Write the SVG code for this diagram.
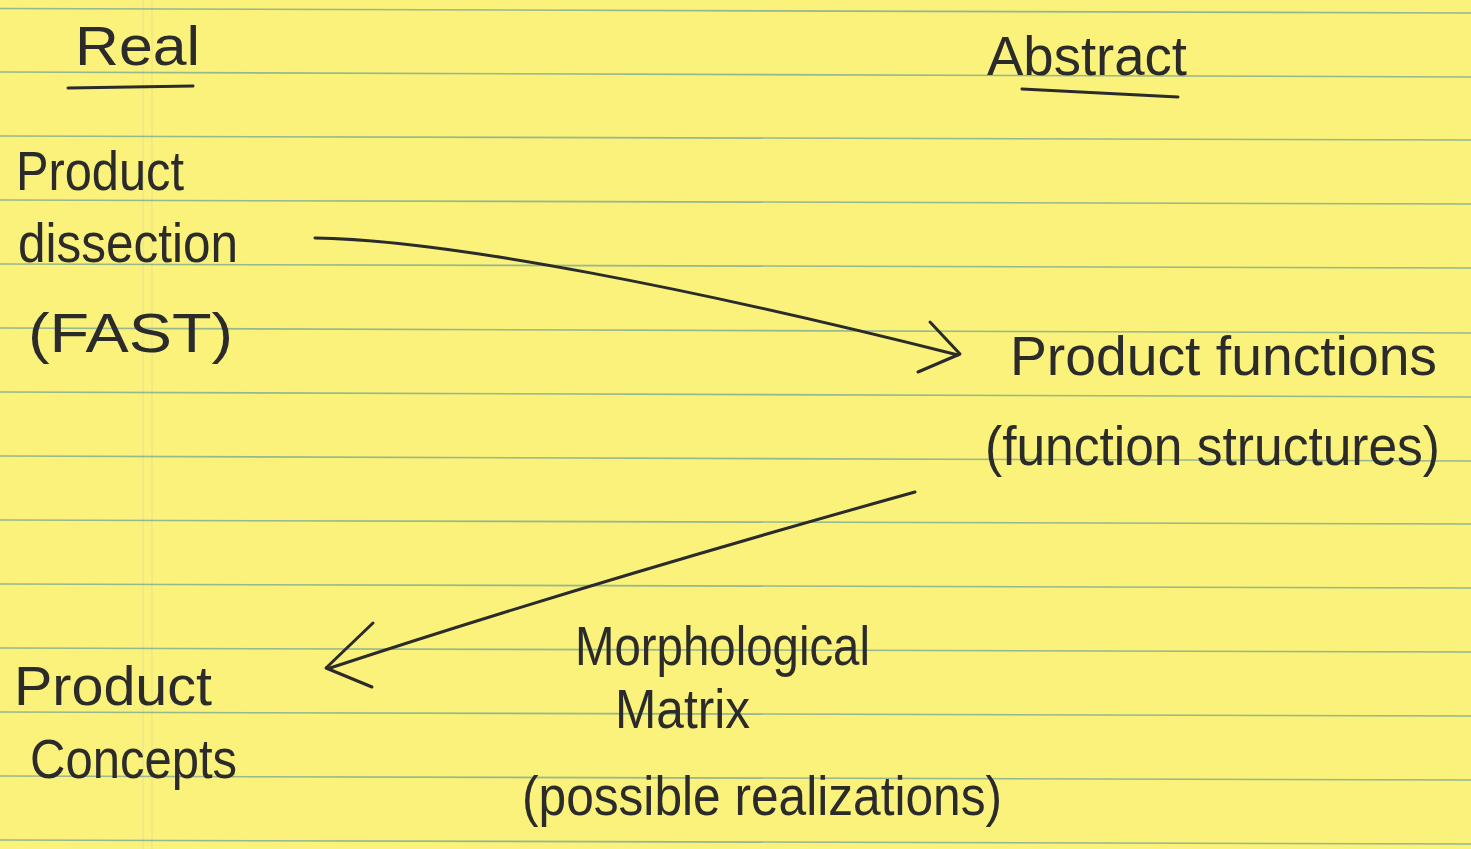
<svg xmlns="http://www.w3.org/2000/svg" width="1471" height="849" viewBox="0 0 1471 849">
<style>
.paper{fill:#faf27a}
.rule{stroke:#86ad93;stroke-width:1.6;opacity:0.85}
.margin{stroke:#ece38c;stroke-width:1.2}
.ink{fill:#2b2b2b;font-family:"Liberation Sans","DejaVu Sans",sans-serif;font-size:56px}
.pen{fill:none;stroke:#2b2b2b;stroke-width:3;stroke-linecap:round;stroke-linejoin:round}
</style>
<rect class="paper" x="0" y="0" width="1471" height="849"/>
<g id="ruling">
<line class="margin" x1="143" y1="0" x2="143" y2="849"/>
<line class="margin" x1="152" y1="0" x2="152" y2="849"/>
<line class="rule" x1="0" y1="8.5" x2="1471" y2="13"/>
<line class="rule" x1="0" y1="72" x2="1471" y2="77"/>
<line class="rule" x1="0" y1="136" x2="1471" y2="140"/>
<line class="rule" x1="0" y1="200" x2="1471" y2="204"/>
<line class="rule" x1="0" y1="264" x2="1471" y2="268"/>
<line class="rule" x1="0" y1="328" x2="1471" y2="333"/>
<line class="rule" x1="0" y1="392" x2="1471" y2="397"/>
<line class="rule" x1="0" y1="456" x2="1471" y2="461"/>
<line class="rule" x1="0" y1="520" x2="1471" y2="524"/>
<line class="rule" x1="0" y1="584" x2="1471" y2="588"/>
<line class="rule" x1="0" y1="648" x2="1471" y2="652"/>
<line class="rule" x1="0" y1="712" x2="1471" y2="716"/>
<line class="rule" x1="0" y1="776" x2="1471" y2="780"/>
<line class="rule" x1="0" y1="840" x2="1471" y2="844"/>
</g>
<g id="heading-real">
<text class="ink" x="75" y="65" font-size="60" textLength="125" lengthAdjust="spacingAndGlyphs">Real</text>
<path class="pen" d="M68,88 L193,86"/>
</g>
<g id="heading-abstract">
<text class="ink" x="987" y="75" font-size="60" textLength="200" lengthAdjust="spacingAndGlyphs">Abstract</text>
<path class="pen" d="M1022,89 L1178,97"/>
</g>
<g id="node-dissection">
<text class="ink" x="16" y="190" textLength="168" lengthAdjust="spacingAndGlyphs">Product</text>
<text class="ink" x="18" y="262" textLength="220" lengthAdjust="spacingAndGlyphs">dissection</text>
<text class="ink" x="28" y="352" textLength="205" lengthAdjust="spacingAndGlyphs">(FAST)</text>
</g>
<g id="node-functions">
<text class="ink" x="1010" y="375" textLength="427" lengthAdjust="spacingAndGlyphs">Product  functions</text>
<text class="ink" x="985" y="465" textLength="455" lengthAdjust="spacingAndGlyphs">(function  structures)</text>
</g>
<g id="node-concepts">
<text class="ink" x="14" y="705" textLength="198" lengthAdjust="spacingAndGlyphs">Product</text>
<text class="ink" x="30" y="778" textLength="207" lengthAdjust="spacingAndGlyphs">Concepts</text>
</g>
<g id="label-morph">
<text class="ink" x="575" y="665" textLength="295" lengthAdjust="spacingAndGlyphs">Morphological</text>
<text class="ink" x="615" y="728" textLength="135" lengthAdjust="spacingAndGlyphs">Matrix</text>
<text class="ink" x="522" y="815" textLength="480" lengthAdjust="spacingAndGlyphs">(possible  realizations)</text>
</g>
<g id="connectors">
<path class="pen" d="M315,238 C450,240 700,290 958,355"/>
<path class="pen" d="M930,322 L960,354 L918,372"/>
<path class="pen" d="M915,492 C700,552 500,612 330,668"/>
<path class="pen" d="M373,623 L326,668 L372,687"/>
</g>
</svg>
